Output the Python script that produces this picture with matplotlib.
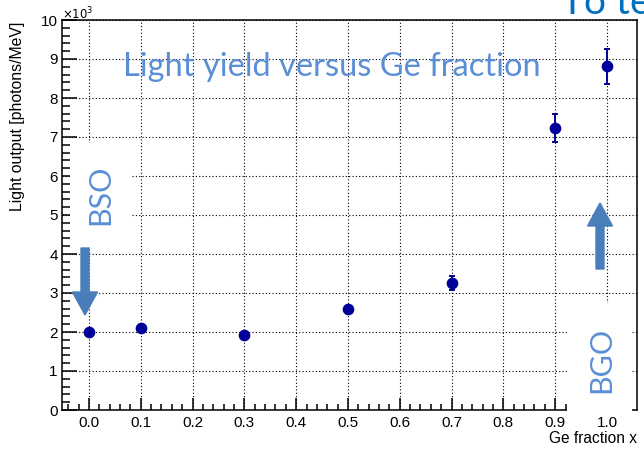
import matplotlib.pyplot as plt
from matplotlib.patches import Rectangle, FancyArrow
from matplotlib.ticker import MultipleLocator, FixedLocator, FixedFormatter
from matplotlib.transforms import offset_copy

# light output vs Ge fraction in Bi4(GexSi1-x)3O12
ge_frac = [0.0, 0.1, 0.3, 0.5, 0.7, 0.9, 1.0]
light_out = [1990, 2110, 1920, 2590, 3260, 7220, 8810]   # photons/MeV
light_err = [50, 50, 50, 60, 180, 360, 450]
x_ticks = [0.0, 0.1, 0.2, 0.3, 0.4, 0.5, 0.6, 0.7, 0.8, 0.9, 1.0]
scale = 1e3

W, H = 644, 449
plt.rcParams['font.family'] = ['Liberation Sans', 'DejaVu Sans']

fig = plt.figure(figsize=(W / 100, H / 100), dpi=100)


def fx(px):
    return px / W


def fy(py):
    return 1 - py / H


ax = fig.add_axes([fx(62), fy(410), fx(636.5) - fx(62), fy(20) - fy(410)])

ax.errorbar(ge_frac, [v / scale for v in light_out], yerr=[e / scale for e in light_err],
            fmt='o', color='#000099', ms=7.4, elinewidth=1.4, capsize=2.4, capthick=1.4,
            zorder=3)

ax.set_xlim(-0.052, 1.057)
ax.set_ylim(0, 10)
ax.xaxis.set_major_locator(FixedLocator(x_ticks))
ax.xaxis.set_major_formatter(FixedFormatter(['%.1f' % t if t < 1 else '' for t in x_ticks]))
ax.xaxis.set_minor_locator(MultipleLocator(0.02))
ax.yaxis.set_major_locator(MultipleLocator(1))
ax.yaxis.set_minor_locator(MultipleLocator(0.2))

ax.tick_params(axis='both', which='both', direction='in', labelsize=11,
               top=False, right=False, width=1.1)
ax.tick_params(axis='y', which='major', length=10.8, pad=3)
ax.tick_params(axis='y', which='minor', length=5.4)
ax.tick_params(axis='x', which='major', length=8.6, pad=4)
ax.tick_params(axis='x', which='minor', length=4.3)
for s in ax.spines.values():
    s.set_linewidth(1.1)

ax.grid(True, which='major', color='black', linestyle=(0, (1, 2)), linewidth=0.8)

fig.text(fx(62), fy(19.5), r'$\times10^{3}$', fontsize=8.5, ha='left', va='baseline')
fig.text(fx(18), fy(22), 'Light output [photons/MeV]', rotation=90,
         fontsize=11.4, ha='center', va='top')
fig.text(fx(637), fy(443), 'Ge fraction x', fontsize=11.2, ha='right', va='baseline')

# pasted labels on top of the frame
fig.patches.append(Rectangle((fx(70), fy(247)), fx(132) - fx(70), fy(143) - fy(247),
                             transform=fig.transFigure, facecolor='white',
                             edgecolor='none', zorder=1))
fig.patches.append(Rectangle((fx(567), fy(449)), fx(632) - fx(567), fy(303) - fy(449),
                             transform=fig.transFigure, facecolor='white',
                             edgecolor='none', zorder=1))

lbl_tr = offset_copy(ax.get_xaxis_transform(), fig=fig, y=-4, units='points')
fig.text(1.0, 0, '1.0', transform=lbl_tr, fontsize=11, ha='center', va='top', zorder=3)

blue_txt = '#5A8FD6'
arrow_col = '#4A7EBB'
fig.text(fx(123), fy(76), 'Light yield versus Ge fraction', family='Lato',
         fontsize=23.5, color=blue_txt, ha='left', va='baseline', zorder=3)
fig.text(fx(100), fy(195), 'BSO', family='Lato', fontsize=22, color=blue_txt,
         rotation=90, ha='center', va='center', zorder=3)
fig.text(fx(601), fy(360), 'BGO', family='Lato', fontsize=22, color=blue_txt,
         rotation=90, ha='center', va='center', zorder=3)
fig.text(fx(561), fy(14), 'To te', family='Lato', fontsize=28, color='#0070C0',
         ha='left', va='baseline', zorder=3)

fig.patches.append(FancyArrow(fx(85), fy(248), 0, fy(315) - fy(248), width=fx(8),
                              head_width=fx(25), head_length=fy(292) - fy(315),
                              length_includes_head=True, transform=fig.transFigure,
                              color=arrow_col, zorder=2))
fig.patches.append(FancyArrow(fx(600), fy(269), 0, fy(203) - fy(269), width=fx(8),
                              head_width=fx(25), head_length=fy(203) - fy(226),
                              length_includes_head=True, transform=fig.transFigure,
                              color=arrow_col, zorder=2))

fig.savefig('out.png', dpi=100)
